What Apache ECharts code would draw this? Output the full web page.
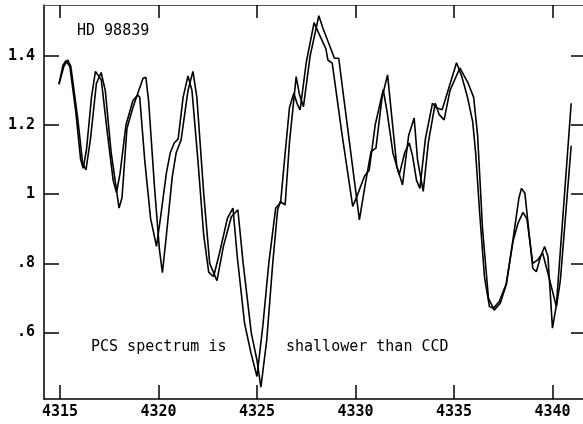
<!DOCTYPE html>
<html>
<head>
<meta charset="utf-8">
<script src="https://cdn.jsdelivr.net/npm/echarts@6/dist/echarts.min.js"></script>
<style>
  html, body { margin: 0; padding: 0; background: #fff; }
  #chart { width: 583px; height: 424px; }
</style>
</head>
<body>
<div id="chart"></div>
<script>
// wavelength (Angstrom) / relative flux
var pcsWave = [4314.95, 4315.15, 4315.3, 4315.5, 4315.8, 4316.05, 4316.18, 4316.35, 4316.6, 4316.8,
  4316.9, 4317.1, 4317.4, 4317.7, 4317.87, 4318.05, 4318.35, 4318.7, 4318.95, 4319.05,
  4319.3, 4319.6, 4319.9, 4320.1, 4320.4, 4320.6, 4320.8, 4321.0, 4321.25, 4321.5,
  4321.7, 4322.0, 4322.3, 4322.55, 4322.8, 4323.1, 4323.5, 4323.78, 4324.0, 4324.37,
  4324.7, 4325.0, 4325.3, 4325.6, 4325.95, 4326.2, 4326.4, 4326.65,
  4326.87, 4327.05, 4327.19, 4327.5, 4327.9, 4328.1, 4328.5, 4328.6, 4328.82, 4329.3,
  4329.86, 4330.05, 4330.45, 4330.7, 4331.0, 4331.41, 4331.6, 4331.9, 4332.22,
  4332.5, 4332.73, 4332.9, 4333.1, 4333.27, 4333.55, 4333.91, 4334.1, 4334.4, 4334.7,
  4335.13, 4335.4, 4335.68, 4335.95, 4336.1, 4336.3, 4336.55, 4336.8, 4337.0, 4337.3,
  4337.65, 4338.0, 4338.25, 4338.5, 4338.7, 4339.0, 4339.25, 4339.5, 4339.8, 4340.2,
  4340.4, 4340.95];
var pcsFlux = [1.318, 1.372, 1.386, 1.37, 1.24, 1.10, 1.075, 1.13, 1.28, 1.355,
  1.36, 1.33, 1.18, 1.04, 1.005, 1.06, 1.2, 1.27, 1.287, 1.28,
  1.10, 0.93, 0.849, 0.93, 1.06, 1.12, 1.148, 1.16, 1.28, 1.342,
  1.30, 1.10, 0.88, 0.775, 0.762, 0.83, 0.93, 0.96, 0.82, 0.627,
  0.54, 0.473, 0.62, 0.80, 0.96, 0.975, 1.10, 1.25,
  1.292, 1.26, 1.244, 1.38, 1.496, 1.47, 1.42, 1.388, 1.379, 1.18,
  0.965, 0.99, 1.051, 1.07, 1.2, 1.302, 1.24, 1.12, 1.056,
  1.12, 1.148, 1.11, 1.04, 1.017, 1.16, 1.263, 1.25, 1.244, 1.30,
  1.38, 1.34, 1.282, 1.21, 1.12, 0.95, 0.76, 0.675, 0.67, 0.69,
  0.74, 0.865, 0.916, 0.947, 0.93, 0.80, 0.81, 0.83, 0.765, 0.675,
  0.75, 1.14];

var ccdWave = [4314.95, 4315.2, 4315.4, 4315.55, 4315.9, 4316.15, 4316.32, 4316.55, 4316.85, 4317.09,
  4317.3, 4317.6, 4318.0, 4318.15, 4318.4, 4318.7, 4319.0, 4319.22, 4319.36, 4319.5,
  4319.8, 4320.05, 4320.2, 4320.4, 4320.7, 4320.9, 4321.15, 4321.5, 4321.75, 4321.95,
  4322.3, 4322.6, 4322.97, 4323.3, 4323.7, 4324.03, 4324.3, 4324.71, 4325.0, 4325.2,
  4325.5, 4325.8, 4326.05, 4326.18, 4326.43, 4326.65, 4326.99, 4327.15, 4327.36, 4327.7,
  4328.14, 4328.35, 4328.76, 4328.93, 4329.15, 4329.65, 4330.2, 4330.5, 4330.79,
  4331.04, 4331.35, 4331.63, 4331.85, 4332.1, 4332.39, 4332.7, 4332.98, 4333.15, 4333.44,
  4333.7, 4334.05, 4334.25, 4334.5, 4334.8, 4335.3, 4335.72, 4336.0, 4336.2, 4336.45,
  4336.75, 4337.04, 4337.35, 4337.66, 4338.0, 4338.3, 4338.43, 4338.6, 4339.0, 4339.18,
  4339.4, 4339.6, 4339.77, 4340.0, 4340.2, 4340.95];
var ccdFlux = [1.318, 1.37, 1.388, 1.37, 1.22, 1.09, 1.07, 1.16, 1.32, 1.352,
  1.30, 1.12, 0.96, 0.99, 1.19, 1.25, 1.30, 1.335, 1.338, 1.27,
  1.02, 0.84, 0.773, 0.88, 1.05, 1.12, 1.157, 1.30, 1.355, 1.28,
  1.00, 0.80, 0.75, 0.85, 0.935, 0.955, 0.80, 0.60, 0.52, 0.442,
  0.58, 0.80, 0.955, 0.979, 0.969, 1.15, 1.34, 1.29, 1.253, 1.40,
  1.516, 1.48, 1.419, 1.393, 1.393, 1.17, 0.926, 1.03, 1.123,
  1.133, 1.28, 1.345, 1.22, 1.08, 1.027, 1.17, 1.22, 1.10, 1.008,
  1.15, 1.263, 1.23, 1.215, 1.30, 1.365, 1.321, 1.28, 1.17, 0.90,
  0.70, 0.665, 0.685, 0.74, 0.87, 0.99, 1.017, 1.003, 0.786, 0.776,
  0.82, 0.849, 0.82, 0.613, 0.68, 1.263];

var xTicks = [4315, 4320, 4325, 4330, 4335, 4340];
var yTicks = [0.6, 0.8, 1, 1.2, 1.4];

function zip(a, b) {
  var out = [];
  for (var i = 0; i < a.length; i++) out.push([a[i], b[i]]);
  return out;
}

var font = 'DejaVu Sans Mono';

var myChart = echarts.init(document.getElementById('chart'));
var option = {
  backgroundColor: '#fff',
  animation: false,
  grid: { left: 44, top: 5, width: 540, height: 394 },
  xAxis: [
    {
      type: 'value', position: 'bottom', min: 4314.19, max: 4341.55,
      splitLine: { show: false },
      axisLine: { lineStyle: { color: '#000', width: 1.5 } },
      axisTick: { inside: true, length: 14, customValues: xTicks, lineStyle: { color: '#000', width: 1.5 } },
      axisLabel: {
        customValues: xTicks, margin: 6, color: '#000',
        fontFamily: font, fontSize: 15, fontWeight: 'bold',
        formatter: function (v) { return String(v); }
      }
    },
    {
      type: 'value', position: 'top', min: 4314.19, max: 4341.55,
      splitLine: { show: false },
      axisLine: { lineStyle: { color: '#555', width: 1 } },
      axisTick: { inside: true, length: 13, customValues: xTicks, lineStyle: { color: '#000', width: 1.5 } },
      axisLabel: { show: false }
    }
  ],
  yAxis: [
    {
      type: 'value', position: 'left', min: 0.408, max: 1.547,
      splitLine: { show: false },
      axisLine: { lineStyle: { color: '#000', width: 1.5 } },
      axisTick: { inside: true, length: 15, customValues: yTicks, lineStyle: { color: '#000', width: 1.5 } },
      axisLabel: {
        customValues: yTicks, margin: 9, color: '#000',
        fontFamily: font, fontSize: 15, fontWeight: 'bold',
        formatter: function (v) { return v < 1 ? String(v).replace(/^0/, '') : String(v); }
      }
    },
    {
      type: 'value', position: 'right', min: 0.408, max: 1.547,
      splitLine: { show: false },
      axisLine: { show: false },
      axisTick: { inside: true, length: 12, customValues: yTicks, lineStyle: { color: '#000', width: 1.5 } },
      axisLabel: { show: false }
    }
  ],
  graphic: [
    { type: 'text', left: 77, top: 24, style: { text: 'HD 98839', font: '15px "DejaVu Sans Mono"', fill: '#000' } },
    { type: 'text', left: 91, top: 340, style: { text: 'PCS spectrum is', font: '15px "DejaVu Sans Mono"', fill: '#000' } },
    { type: 'text', left: 286, top: 340, style: { text: 'shallower than CCD', font: '15px "DejaVu Sans Mono"', fill: '#000' } }
  ],
  series: [
    {
      name: 'PCS', type: 'line', xAxisIndex: 0, yAxisIndex: 0,
      data: zip(pcsWave, pcsFlux), symbol: 'none', smooth: false,
      lineStyle: { color: '#000', width: 1.6 }
    },
    {
      name: 'CCD', type: 'line', xAxisIndex: 0, yAxisIndex: 0,
      data: zip(ccdWave, ccdFlux), symbol: 'none', smooth: false,
      lineStyle: { color: '#000', width: 1.6 }
    }
  ]
};
myChart.setOption(option);
</script>
</body>
</html>
